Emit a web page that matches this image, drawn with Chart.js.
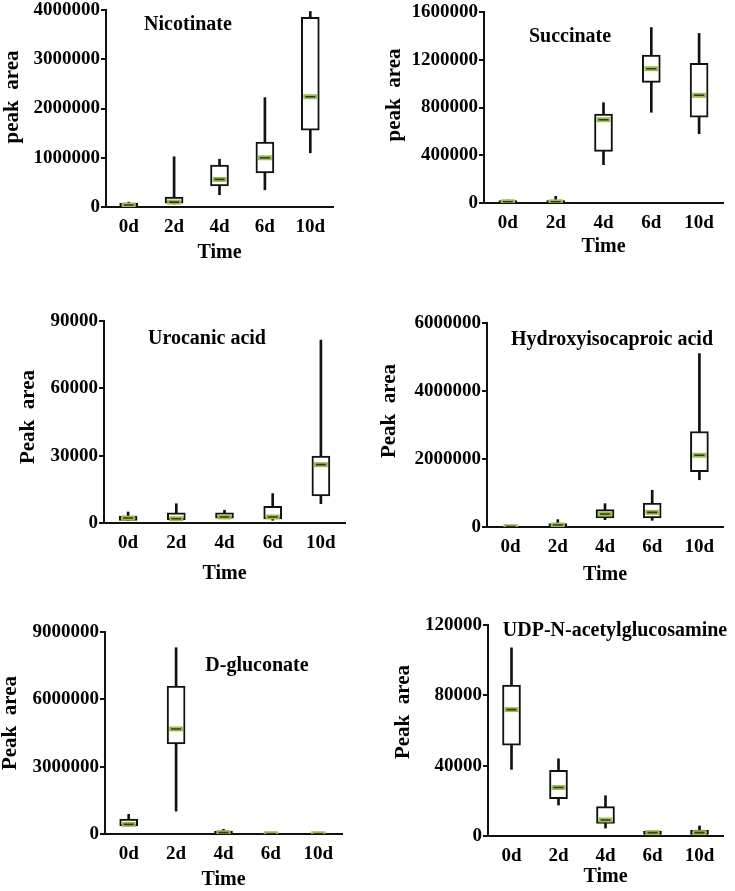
<!DOCTYPE html>
<html>
<head>
<meta charset="utf-8">
<script src="https://cdn.jsdelivr.net/npm/chart.js@4.4.1/dist/chart.umd.min.js"></script>
<style>
  body { margin: 0; background: #fff; overflow: hidden; }
  #page { position: relative; width: 735px; height: 891px; overflow: hidden; }
  canvas { position: absolute; }
</style>
</head>
<body>
<div id="page"></div>
<script>
const times = ['0d', '2d', '4d', '6d', '10d'];

// [min, q1, median, q3, max] for each time point
const nicotinate = [
  [0, 10000, 40000, 80000, 100000],
  [60000, 80000, 100000, 200000, 1020000],
  [250000, 430000, 560000, 850000, 970000],
  [350000, 690000, 1000000, 1320000, 2220000],
  [1100000, 1560000, 2240000, 3850000, 3970000]
];
const succinate = [
  [0, 3000, 10000, 20000, 25000],
  [0, 3000, 10000, 20000, 56000],
  [321000, 433000, 698000, 745000, 840000],
  [760000, 1010000, 1125000, 1240000, 1470000],
  [580000, 720000, 902000, 1170000, 1420000]
];
const urocanic = [
  [1000, 1200, 2200, 3100, 4900],
  [1500, 1500, 1900, 4500, 8600],
  [2000, 2100, 2700, 4500, 5700],
  [1200, 1800, 2700, 7400, 13100],
  [8600, 12100, 26000, 29800, 81500]
];
const hydroxy = [
  [0, 0, 10000, 20000, 20000],
  [10000, 20000, 59000, 98000, 216000],
  [216000, 265000, 382000, 510000, 686000],
  [196000, 265000, 431000, 706000, 1080000],
  [1390000, 1630000, 2110000, 2810000, 5100000]
];
const gluconate = [
  [356000, 356000, 431000, 668000, 876000],
  [1020000, 4010000, 4680000, 6590000, 8300000],
  [0, 0, 60000, 134000, 208000],
  [0, 0, 10000, 30000, 30000],
  [0, 0, 10000, 30000, 30000]
];
const udpGlcNAc = [
  [37900, 51700, 71900, 85900, 107000],
  [17600, 21200, 27600, 37300, 43900],
  [4500, 7200, 9100, 16700, 22900],
  [900, 900, 1900, 2800, 2800],
  [900, 900, 1900, 3400, 5700]
];

const nicotinateTicks = [0, 1000000, 2000000, 3000000, 4000000];
const succinateTicks = [0, 400000, 800000, 1200000, 1600000];
const urocanicTicks = [0, 30000, 60000, 90000];
const hydroxyTicks = [0, 2000000, 4000000, 6000000];
const gluconateTicks = [0, 3000000, 6000000, 9000000];
const udpTicks = [0, 40000, 80000, 120000];

const FONT = "'Liberation Serif', 'Times New Roman', serif";

// plot = [left, top, right, bottom] on the page, yt / tt = centres of axis title / panel title
const panels = [
  { name: 'Nicotinate', yTitle: 'peak  area', stats: nicotinate, ticks: nicotinateTicks,
    col: 0, plot: [106, 10, 333, 207], timeOff: 46, yt: [13, 97], tt: [188, 25] },
  { name: 'Succinate', yTitle: 'peak  area', stats: succinate, ticks: succinateTicks,
    col: 1, plot: [484, 12, 728, 203], timeOff: 44, yt: [395, 95], tt: [570, 37] },
  { name: 'Urocanic acid', yTitle: 'Peak  area', stats: urocanic, ticks: urocanicTicks,
    col: 0, plot: [104, 321, 345, 523], timeOff: 51, yt: [29, 417], tt: [207, 339] },
  { name: 'Hydroxyisocaproic acid', yTitle: 'Peak  area', stats: hydroxy, ticks: hydroxyTicks,
    col: 1, plot: [487, 323, 726, 527], timeOff: 48, yt: [390, 411], tt: [612, 340] },
  { name: 'D-gluconate', yTitle: 'Peak  area', stats: gluconate, ticks: gluconateTicks,
    col: 0, plot: [105, 632, 342, 834], timeOff: 46, yt: [11, 723], tt: [257, 666] },
  { name: 'UDP-N-acetylglucosamine', yTitle: 'Peak  area', stats: udpGlcNAc, ticks: udpTicks,
    col: 1, plot: [488, 625, 732, 836], timeOff: 41, yt: [404, 712], tt: [615, 631] }
];

const page = document.getElementById('page');

panels.forEach(p => {
  const colL = p.col === 0 ? 0 : 368;
  const colR = p.col === 0 ? 367 : 735;
  const [l, t, r, b] = p.plot;
  const padTop = 16;
  const xH = p.timeOff + 12;
  const canvas = document.createElement('canvas');
  const cLeft = colL, cTop = t - padTop;
  canvas.width = colR - colL;
  canvas.height = padTop + (b - t) + xH + 2;
  canvas.style.left = cLeft + 'px';
  canvas.style.top = cTop + 'px';
  page.appendChild(canvas);

  const labelsPlugin = {
    id: 'labels',
    afterDraw(chart) {
      const ctx = chart.ctx;
      ctx.save();
      ctx.fillStyle = '#000';
      ctx.textAlign = 'center';
      ctx.textBaseline = 'middle';
      ctx.font = 'bold 20px ' + FONT;
      ctx.fillText(p.name, p.tt[0] - cLeft, p.tt[1] - cTop);
      ctx.translate(p.yt[0] - cLeft, p.yt[1] - cTop);
      ctx.rotate(-Math.PI / 2);
      ctx.font = 'bold 21px ' + FONT;
      ctx.fillText(p.yTitle, 0, 0);
      ctx.restore();
    }
  };

  new Chart(canvas, {
    type: 'bar',
    data: {
      labels: times,
      datasets: [
        {
          type: 'line', data: p.stats.map(s => s[2]), showLine: false, order: 0,
          pointStyle: 'line', pointRadius: 5, pointBorderWidth: 1.6,
          pointBorderColor: '#2f3a1a', pointBackgroundColor: '#2f3a1a'
        },
        {
          type: 'line', data: p.stats.map(s => s[2]), showLine: false, order: 1,
          pointStyle: 'line', pointRadius: 7, pointBorderWidth: 5,
          pointBorderColor: '#9cbd55', pointBackgroundColor: '#9cbd55'
        },
        {
          data: p.stats.map(s => [s[1], s[3]]), order: 2, grouped: false,
          barThickness: 18, backgroundColor: '#fff', borderColor: '#111',
          borderWidth: 2, borderSkipped: false
        },
        {
          data: p.stats.map(s => [s[0], s[4]]), order: 3, grouped: false,
          barThickness: 2, backgroundColor: '#111', borderWidth: 0
        }
      ]
    },
    options: {
      responsive: false,
      animation: false,
      layout: { padding: { left: 0, top: padTop, right: colR - r, bottom: 2 } },
      plugins: { legend: { display: false }, tooltip: { enabled: false } },
      scales: {
        x: {
          grid: { display: false, drawTicks: false },
          border: { display: true, color: '#111', width: 2 },
          ticks: { color: '#000', padding: 9, font: { family: FONT, size: 19, weight: 'bold' } },
          title: { display: true, text: 'Time', color: '#000', padding: 0,
                   font: { family: FONT, size: 20, weight: 'bold' } },
          afterFit: s => { s.height = xH; }
        },
        y: {
          min: p.ticks[0],
          max: p.ticks[p.ticks.length - 1],
          afterBuildTicks: s => { s.ticks = p.ticks.map(v => ({ value: v })); },
          grid: { drawOnChartArea: false, drawTicks: true, tickLength: 5, tickColor: '#111', lineWidth: 2 },
          border: { display: true, color: '#111', width: 2 },
          ticks: { color: '#000', padding: 1, callback: v => String(v),
                   font: { family: FONT, size: 19, weight: 'bold' } },
          afterFit: s => { s.width = l - colL; }
        }
      }
    },
    plugins: [labelsPlugin]
  });
});
</script>
</body>
</html>
